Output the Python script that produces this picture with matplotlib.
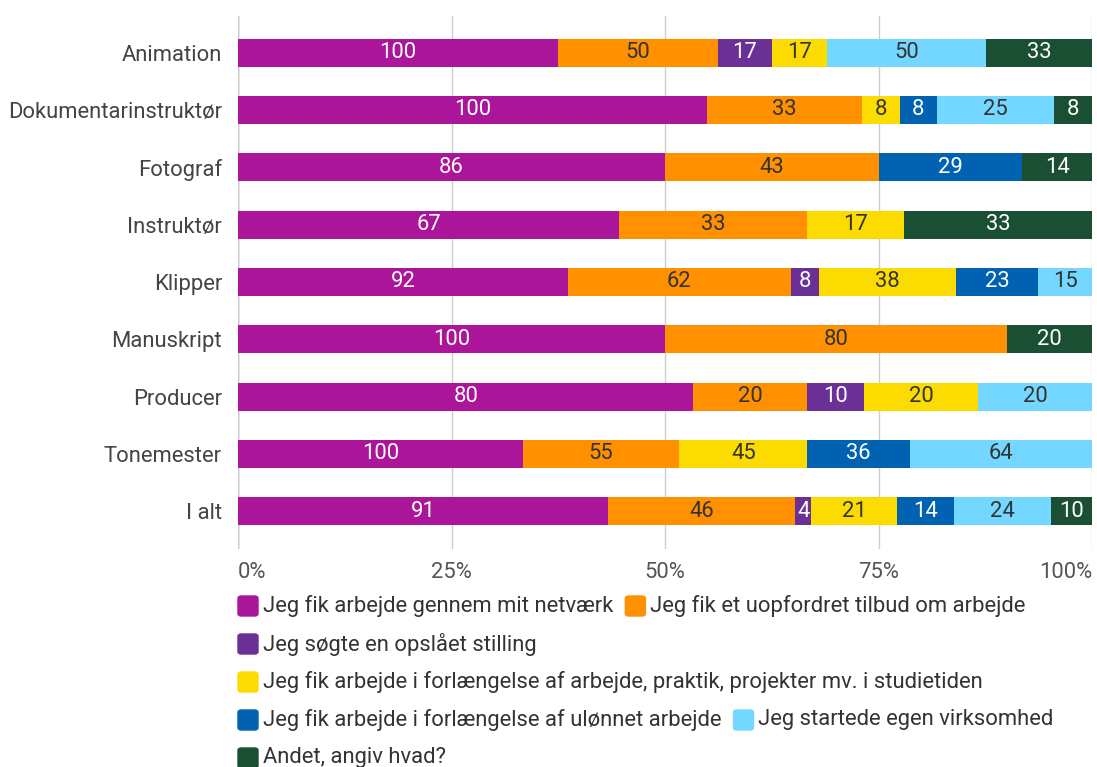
import matplotlib.pyplot as plt
from matplotlib.patches import FancyBboxPatch
import numpy as np

plt.rcParams['font.family'] = ['Roboto', 'DejaVu Sans']

# kategorier og serier
categories = ['Animation', 'Dokumentarinstruktør', 'Fotograf', 'Instruktør', 'Klipper',
              'Manuskript', 'Producer', 'Tonemester', 'I alt']
series_names = [
    'Jeg fik arbejde gennem mit netværk',
    'Jeg fik et uopfordret tilbud om arbejde',
    'Jeg søgte en opslået stilling',
    'Jeg fik arbejde i forlængelse af arbejde, praktik, projekter mv. i studietiden',
    'Jeg fik arbejde i forlængelse af ulønnet arbejde',
    'Jeg startede egen virksomhed',
    'Andet, angiv hvad?',
]
netvaerk = [100, 100, 86, 67, 92, 100, 80, 100, 91]
uopfordret = [50, 33, 43, 33, 62, 80, 20, 55, 46]
opslaaet = [17, 0, 0, 0, 8, 0, 10, 0, 4]
studietid = [17, 8, 0, 17, 38, 0, 20, 45, 21]
ulonnet = [0, 8, 29, 0, 23, 0, 0, 36, 14]
virksomhed = [50, 25, 0, 0, 15, 0, 20, 64, 24]
andet = [33, 8, 14, 33, 0, 20, 0, 0, 10]

colors = ['#AA1599', '#FF9000', '#6A3096', '#FCDC00', '#0062B0', '#74D7FF', '#1A4F33']
text_colors = ['white', '#333333', 'white', '#333333', 'white', '#333333', 'white']

data = np.array([netvaerk, uopfordret, opslaaet, studietid, ulonnet, virksomhed, andet], dtype=float)
totals = data.sum(axis=0)
shares = data / totals * 100

FS = 15.8

fig = plt.figure(figsize=(10.97, 7.67), dpi=100)
ax = fig.add_axes([238 / 1097, 1 - 549 / 767, (1092 - 238) / 1097, (549 - 16) / 767])

y = np.arange(len(categories))
left = np.zeros(len(categories))
for i in range(len(series_names)):
    ax.barh(y, shares[i], left=left, height=0.49, color=colors[i], zorder=3)
    for j in range(len(categories)):
        if data[i, j] > 0:
            ax.text(left[j] + shares[i, j] / 2, y[j], f'{int(data[i, j])}',
                    ha='center', va='center', color=text_colors[i], fontsize=FS, zorder=4)
    left += shares[i]

ax.set_xlim(0, 100)
ax.set_ylim(len(categories) - 0.34, -0.64)
ax.set_xticks([0, 25, 50, 75, 100])
ax.set_xticklabels(['0%', '25%', '50%', '75%', '100%'])
ax.set_yticks(y)
ax.set_yticklabels(categories)
ax.grid(axis='x', color='#cccccc', linewidth=1, zorder=0)
for s in ax.spines.values():
    s.set_visible(False)
ax.axvline(0, color='#a0a0a0', linewidth=1, zorder=1)
ax.tick_params(axis='x', length=0, labelsize=FS, labelcolor='#555555', pad=9)
ax.tick_params(axis='y', length=0, labelsize=FS, labelcolor='#444444', pad=11.5)
xl = ax.get_xticklabels()
xl[0].set_ha('left')
xl[-1].set_ha('right')

# legend tegnet manuelt
rows = [[0, 1], [2], [3], [4, 5], [6]]
fig.canvas.draw()
renderer = fig.canvas.get_renderer()
W, H = fig.bbox.width, fig.bbox.height
row_y = [606, 644, 682, 720, 758]
for r, items in enumerate(rows):
    x = 238
    for k in items:
        yc = row_y[r]
        box = FancyBboxPatch((x / W, 1 - (yc + 10) / H), 20 / W, 20 / H,
                             boxstyle='round,pad=0,rounding_size=0.003',
                             transform=fig.transFigure, color=colors[k])
        fig.patches.append(box)
        t = fig.text((x + 25) / W, 1 - yc / H, series_names[k], ha='left', va='center',
                     fontsize=FS, color='#333333')
        bb = t.get_window_extent(renderer)
        x = bb.x1 + 12

fig.savefig('out.png', dpi=100)
